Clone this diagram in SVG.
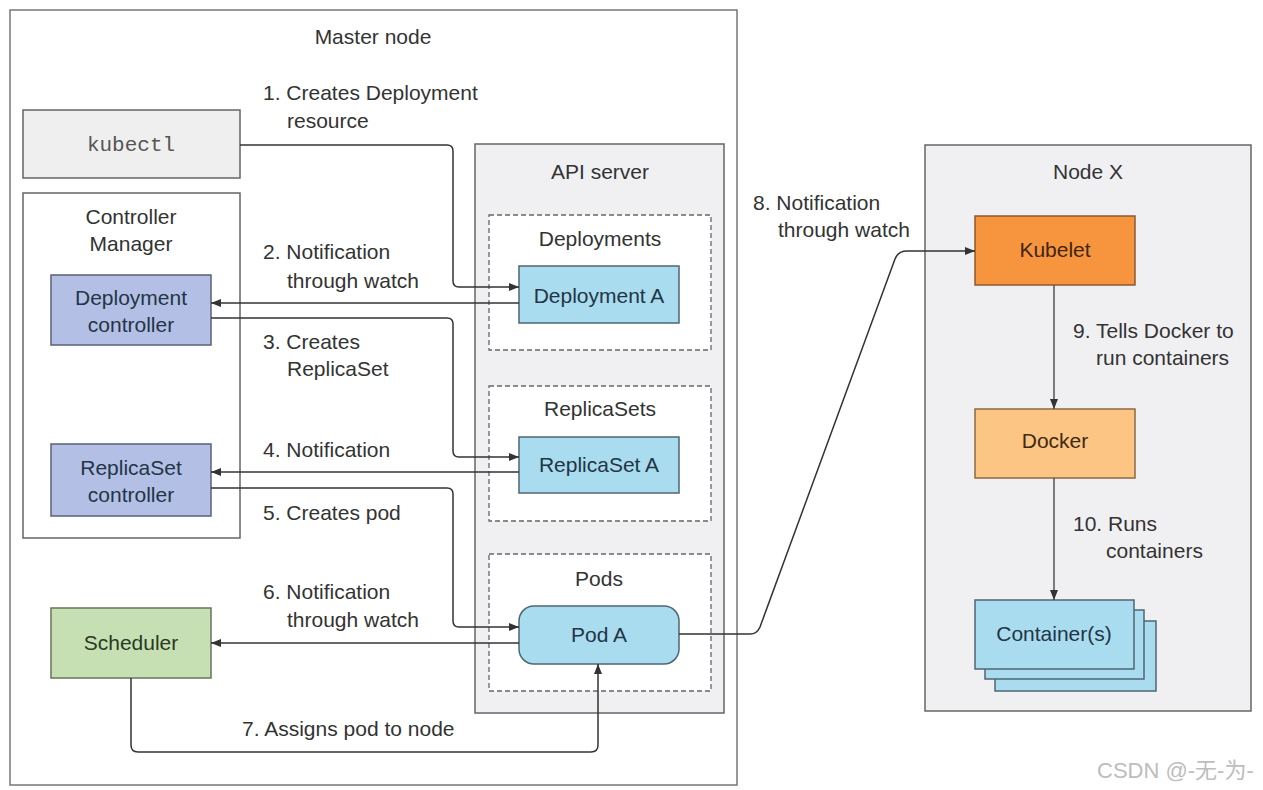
<svg xmlns="http://www.w3.org/2000/svg" width="1263" height="790" viewBox="0 0 1263 790">
<defs>
<style>
text{font-family:"Liberation Sans",Arial,sans-serif;font-size:21px;fill:#333}
.c{text-anchor:middle}
.box{stroke:#666;stroke-width:1.5}
.dash{fill:#fff;stroke:#666;stroke-width:1.3;stroke-dasharray:5,3}
.blue{fill:#a9dcee;stroke:#4f6673;stroke-width:1.5}
.ctrl{fill:#b4bfe5;stroke:#5a6275;stroke-width:1.5}
.nt{fill:#233546}
.conn path{fill:none;stroke:#333;stroke-width:1.5}
.mono{font-family:"Liberation Mono","Courier New",monospace;font-size:21px;fill:#555}
</style>
<marker id="ah" markerUnits="userSpaceOnUse" markerWidth="10" markerHeight="8" refX="10" refY="4" orient="auto">
<path d="M0,0 L10,4 L0,8 z" fill="#333"/>
</marker>
</defs>
<rect width="1263" height="790" fill="#fff"/>

<g id="master">
<rect x="10" y="10" width="727" height="775" fill="#fff" stroke="#777" stroke-width="1.5"/>
<text class="c" x="373" y="44">Master node</text>
</g>

<g id="kubectl">
<rect class="box" x="23" y="110" width="217" height="68" fill="#efefef"/>
<text class="c mono" x="131" y="151">kubectl</text>
</g>

<g id="controller-manager">
<rect class="box" x="23" y="193" width="217" height="345" fill="#fff"/>
<text class="c" x="131" y="224">Controller</text>
<text class="c" x="131" y="251">Manager</text>
</g>

<g id="deployment-controller">
<rect class="ctrl" x="51" y="275" width="160" height="70"/>
<text class="c nt" x="131" y="305">Deployment</text>
<text class="c nt" x="131" y="332">controller</text>
</g>

<g id="replicaset-controller">
<rect class="ctrl" x="51" y="444" width="160" height="72"/>
<text class="c nt" x="131" y="475">ReplicaSet</text>
<text class="c nt" x="131" y="502">controller</text>
</g>

<g id="scheduler">
<rect x="51" y="608" width="160" height="70" fill="#c6e0b4" stroke="#65765a" stroke-width="1.5"/>
<text class="c" x="131" y="650" style="fill:#2a3a22">Scheduler</text>
</g>

<g id="api-server">
<rect class="box" x="475" y="144" width="249" height="569" fill="#f0f0f2"/>
<text class="c" x="600" y="179">API server</text>
</g>

<g id="deployments">
<rect class="dash" x="489" y="215" width="222" height="135"/>
<text class="c" x="600" y="246">Deployments</text>
</g>
<g id="deployment-a">
<rect class="blue" x="519" y="266" width="160" height="57"/>
<text class="c nt" x="599" y="303">Deployment A</text>
</g>

<g id="replicasets">
<rect class="dash" x="489" y="386" width="222" height="135"/>
<text class="c" x="600" y="416">ReplicaSets</text>
</g>
<g id="replicaset-a">
<rect class="blue" x="519" y="437" width="160" height="56"/>
<text class="c nt" x="599" y="472">ReplicaSet A</text>
</g>

<g id="pods">
<rect class="dash" x="489" y="554" width="222" height="137"/>
<text class="c" x="599" y="586">Pods</text>
</g>
<g id="pod-a">
<rect class="blue" x="519" y="606" width="160" height="58" rx="15"/>
<text class="c nt" x="599" y="642">Pod A</text>
</g>

<g id="node-x">
<rect class="box" x="925" y="145" width="326" height="566" fill="#f0f0f2"/>
<text class="c" x="1088" y="179">Node X</text>
</g>

<g id="kubelet">
<rect x="975" y="216" width="160" height="69" fill="#f7953f" stroke="#8a5a30" stroke-width="1.5"/>
<text class="c" x="1055" y="257" style="fill:#3e2510">Kubelet</text>
</g>

<g id="docker">
<rect x="975" y="409" width="160" height="69" fill="#fdc583" stroke="#8a6a45" stroke-width="1.5"/>
<text class="c" x="1055" y="448" style="fill:#3e2a15">Docker</text>
</g>

<g id="containers">
<rect class="blue" x="995" y="621" width="161" height="70"/>
<rect class="blue" x="985" y="610" width="159" height="69"/>
<rect class="blue" x="975" y="600" width="159" height="69"/>
<text class="c nt" x="1054" y="641">Container(s)</text>
</g>

<g id="connectors" class="conn">
<path marker-end="url(#ah)" d="M240,145 H447 Q453,145 453,151 V281 Q453,287 459,287 H519"/>
<path marker-end="url(#ah)" d="M519,303 H211"/>
<path marker-end="url(#ah)" d="M211,318 H447 Q453,318 453,324 V451 Q453,457 459,457 H519"/>
<path marker-end="url(#ah)" d="M519,472 H211"/>
<path marker-end="url(#ah)" d="M211,488 H447 Q453,488 453,494 V621 Q453,627 459,627 H519"/>
<path marker-end="url(#ah)" d="M519,643 H211"/>
<path marker-end="url(#ah)" d="M131,678 V745 Q131,752 138,752 H591 Q598,752 598,745 V664"/>
<path marker-end="url(#ah)" d="M679,634 H750 Q757,634 760,627 L895,259 Q898,251 907,251 H975"/>
<path marker-end="url(#ah)" d="M1054,285 V409" style="stroke:#555"/>
<path marker-end="url(#ah)" d="M1054,478 V600" style="stroke:#555"/>
</g>

<g id="labels">
<text x="263" y="100">1. Creates Deployment</text>
<text x="287" y="128">resource</text>
<text x="263" y="259">2. Notification</text>
<text x="287" y="288">through watch</text>
<text x="263" y="349">3. Creates</text>
<text x="287" y="376">ReplicaSet</text>
<text x="263" y="457">4. Notification</text>
<text x="263" y="520">5. Creates pod</text>
<text x="263" y="599">6. Notification</text>
<text x="287" y="627">through watch</text>
<text x="242" y="736">7. Assigns pod to node</text>
<text x="753" y="210">8. Notification</text>
<text x="778" y="237">through watch</text>
<text x="1073" y="338">9. Tells Docker to</text>
<text x="1096" y="365">run containers</text>
<text x="1073" y="531">10. Runs</text>
<text x="1106" y="558">containers</text>
</g>

<text x="1097" y="778" style="font-family:'Liberation Sans','Noto Sans CJK SC',sans-serif;fill:#bdbdbd;font-size:22px">CSDN @-无-为-</text>
</svg>
